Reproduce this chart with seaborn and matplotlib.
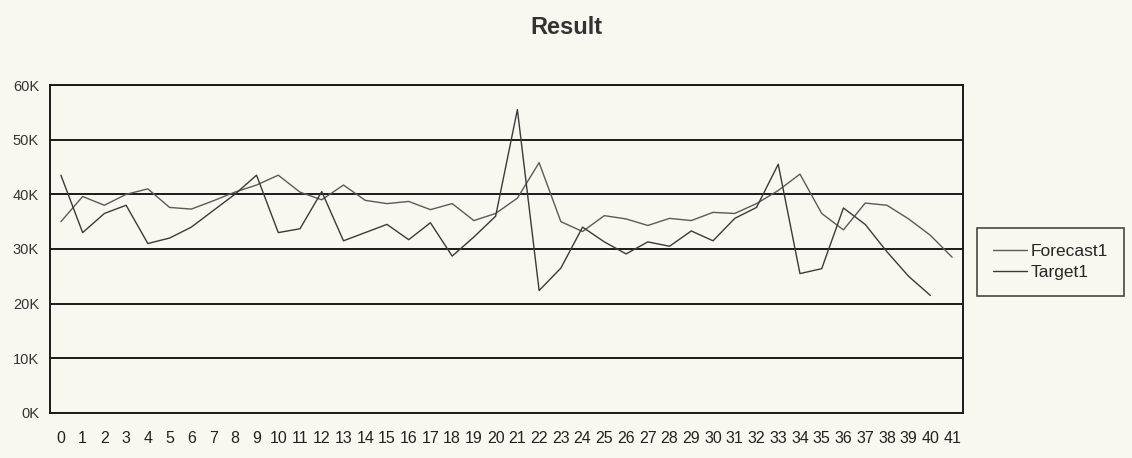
import matplotlib
matplotlib.use("Agg")
import matplotlib.pyplot as plt
import seaborn as sns
import pandas as pd
import numpy as np

# Period index on the x axis
periods = list(range(42))

# Values in thousands
forecast1 = [35.0, 39.6, 38.0, 40.0, 41.0, 37.6, 37.3, 38.8, 40.4, 41.7,
             43.5, 40.4, 39.0, 41.7, 38.9, 38.3, 38.7, 37.2, 38.3, 35.2,
             36.5, 39.3, 45.8, 35.0, 33.2, 36.1, 35.5, 34.3, 35.6, 35.2,
             36.7, 36.5, 38.3, 40.7, 43.7, 36.5, 33.5, 38.4, 38.0, 35.5,
             32.5, 28.5]
target1 = [43.5, 33.0, 36.5, 38.0, 31.0, 32.0, 34.0, 37.0, 40.0, 43.5,
           33.0, 33.7, 40.5, 31.5, 33.0, 34.5, 31.7, 34.8, 28.7, 32.2,
           36.0, 55.5, 22.4, 26.5, 34.0, 31.3, 29.1, 31.3, 30.5, 33.3,
           31.5, 35.6, 37.6, 45.5, 25.5, 26.4, 37.5, 34.5, 29.5, 25.0,
           21.5, np.nan]

y_ticks = [0, 10, 20, 30, 40, 50, 60]
y_tick_labels = ["0K", "10K", "20K", "30K", "40K", "50K", "60K"]

df = pd.DataFrame({
    "period": periods * 2,
    "value": [v * 1000 for v in forecast1] + [v * 1000 for v in target1],
    "series": ["Forecast1"] * len(periods) + ["Target1"] * len(periods),
})

sns.set_theme(style="white")
plt.rcParams["font.family"] = ["Liberation Sans", "DejaVu Sans"]

bg = "#f9f7ef"
fig = plt.figure(figsize=(11.32, 4.58), dpi=100, facecolor=bg)
ax = fig.add_axes([0.0442, 0.0983, 0.8065, 0.7161])
ax.set_facecolor(bg)

sns.lineplot(data=df, x="period", y="value", hue="series",
             palette={"Forecast1": "#5a5a5a", "Target1": "#3a3a3a"},
             linewidth=1.0, ax=ax, legend=False, estimator=None)

ax.set_xlim(-0.5, 41.5)
ax.set_ylim(0, 60000)
ax.set_yticks([t * 1000 for t in y_ticks])
ax.set_yticklabels(y_tick_labels, fontsize=10.5, color="#333333")
ax.set_xticks(periods)
ax.set_xticklabels([str(p) for p in periods], fontsize=11.5, color="#222222")
ax.tick_params(axis="y", length=0, pad=8)
ax.tick_params(axis="x", length=0, pad=13)
ax.set_xlabel("")
ax.set_ylabel("")

ax.yaxis.grid(True, color="#1a1a1a", linewidth=1.4)
ax.xaxis.grid(False)
for side in ["left", "right", "top", "bottom"]:
    ax.spines[side].set_visible(True)
    ax.spines[side].set_color("#1a1a1a")
    ax.spines[side].set_linewidth(1.4)

fig.suptitle("Result", fontsize=17, fontweight="bold", color="#333333",
             x=0.5, y=0.966)

handles = [plt.Line2D([0], [0], color="#5a5a5a", lw=1.0),
           plt.Line2D([0], [0], color="#3a3a3a", lw=1.0)]
leg = fig.legend(handles, ["Forecast1", "Target1"], loc="upper left",
                 bbox_to_anchor=(0.863, 0.502), borderaxespad=0.0,
                 fontsize=12.5, frameon=True,
                 fancybox=False, handlelength=2.0, handletextpad=0.2,
                 borderpad=0.9, labelspacing=0.35)
leg.get_frame().set_edgecolor("#1a1a1a")
leg.get_frame().set_linewidth(1.2)
leg.get_frame().set_facecolor(bg)

fig.savefig("out.png", dpi=100, facecolor=bg)
